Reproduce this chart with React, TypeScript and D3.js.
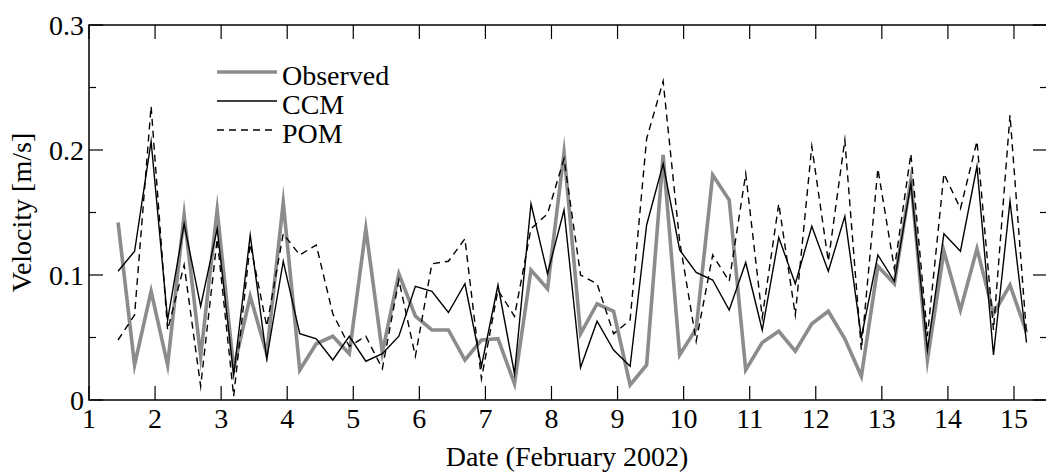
import React from "react";
import * as d3 from "d3";

const dates = [1.44,1.69,1.94,2.19,2.44,2.69,2.94,3.19,3.44,3.69,3.94,4.19,4.44,4.69,4.94,5.19,5.44,5.69,5.94,6.19,6.44,6.69,6.94,7.19,7.44,7.69,7.94,8.19,8.44,8.69,8.94,9.19,9.44,9.69,9.94,10.19,10.44,10.69,10.94,11.19,11.44,11.69,11.94,12.19,12.44,12.69,12.94,13.19,13.44,13.69,13.94,14.19,14.44,14.69,14.94,15.19];

const observed = [0.142,0.028,0.087,0.028,0.148,0.035,0.152,0.025,0.083,0.037,0.158,0.024,0.045,0.051,0.037,0.137,0.038,0.101,0.067,0.056,0.056,0.032,0.048,0.049,0.013,0.104,0.089,0.198,0.053,0.077,0.071,0.012,0.028,0.196,0.036,0.057,0.180,0.160,0.024,0.046,0.055,0.039,0.061,0.071,0.049,0.019,0.107,0.093,0.176,0.032,0.119,0.072,0.121,0.069,0.092,0.054];

const ccm = [0.103,0.119,0.207,0.064,0.141,0.075,0.137,0.020,0.132,0.033,0.111,0.053,0.049,0.032,0.051,0.031,0.037,0.051,0.091,0.087,0.070,0.093,0.027,0.092,0.021,0.157,0.101,0.152,0.026,0.063,0.040,0.027,0.140,0.189,0.120,0.102,0.096,0.072,0.110,0.056,0.130,0.093,0.139,0.103,0.147,0.050,0.116,0.095,0.173,0.040,0.133,0.119,0.187,0.036,0.159,0.046];

const pom = [0.048,0.068,0.235,0.056,0.108,0.011,0.129,0.003,0.125,0.059,0.133,0.116,0.124,0.069,0.043,0.051,0.025,0.096,0.035,0.109,0.111,0.129,0.017,0.088,0.067,0.137,0.149,0.193,0.100,0.093,0.053,0.064,0.209,0.255,0.127,0.047,0.116,0.095,0.181,0.066,0.157,0.068,0.203,0.111,0.208,0.040,0.185,0.105,0.197,0.051,0.181,0.153,0.207,0.056,0.228,0.053];

const xTicks = [1,2,3,4,5,6,7,8,9,10,11,12,13,14,15];
const yTicks = [0, 0.1, 0.2, 0.3];
const yTickLabels = ["0", "0.1", "0.2", "0.3"];
const yMinorTicks = [0.05, 0.15, 0.25];

const seriesNames = ["Observed", "CCM", "POM"];

const W = 1046, H = 473;
const FONT = "Liberation Serif, Times New Roman, DejaVu Serif, serif";
const txt = { fontFamily: FONT, fontSize: 28 } as React.CSSProperties;

export default function App() {
  const x = d3.scaleLinear().domain([1, 15.5]).range([89, 1047]);
  const y = d3.scaleLinear().domain([0, 0.3]).range([400, 25]);
  const [x0, x1] = x.range();
  const [y0, y1] = y.range();

  const mk = (vals: number[]) =>
    d3.line<number>().x((_, i) => x(dates[i])).y((v) => y(v))(vals) || "";

  const styles = [
    { stroke: "#8c8c8c", width: 3.6, dash: undefined as string | undefined },
    { stroke: "#000", width: 1.4, dash: undefined },
    { stroke: "#000", width: 1.4, dash: "7,5" },
  ];
  const data = [observed, ccm, pom];
  const legendY = [72, 101, 130];

  const major = 14, minor = 7;

  return (
    <svg width={W} height={H} style={{ position: "absolute", left: 0, top: 0, background: "#fff" }}>
      <defs>
        <clipPath id="plot">
          <rect x={x0} y={y1} width={x1 - x0} height={y0 - y1} />
        </clipPath>
      </defs>
      <g clipPath="url(#plot)">
        {data.map((d, k) => (
          <path key={k} d={mk(d)} fill="none" stroke={styles[k].stroke} strokeWidth={styles[k].width}
            strokeDasharray={styles[k].dash} strokeLinejoin="miter" strokeMiterlimit={10} />
        ))}
      </g>
      {seriesNames.map((n, k) => (
        <g key={n}>
          <line x1={217} x2={277} y1={legendY[k]} y2={legendY[k]} stroke={styles[k].stroke}
            strokeWidth={styles[k].width} strokeDasharray={styles[k].dash} />
          <text x={282} y={legendY[k] + 13} style={txt} fill="#000">{n}</text>
        </g>
      ))}
      <rect x={x0} y={y1} width={x1 - x0} height={y0 - y1} fill="none" stroke="#000" strokeWidth={1.5} />
      {xTicks.map((t) => (
        <g key={"x" + t}>
          <line x1={x(t)} x2={x(t)} y1={y0} y2={y0 - major} stroke="#000" strokeWidth={1.2} />
          <line x1={x(t)} x2={x(t)} y1={y1} y2={y1 + major} stroke="#000" strokeWidth={1.2} />
          <text x={x(t)} y={428} style={txt} textAnchor="middle" fill="#000">{t}</text>
        </g>
      ))}
      {yTicks.map((t, i) => (
        <g key={"y" + t}>
          <line x1={x0} x2={x0 + major} y1={y(t)} y2={y(t)} stroke="#000" strokeWidth={1.2} />
          <line x1={x1} x2={x1 - major} y1={y(t)} y2={y(t)} stroke="#000" strokeWidth={1.2} />
          <text x={84} y={y(t)} dy="0.35em" style={txt} textAnchor="end" fill="#000">{yTickLabels[i]}</text>
        </g>
      ))}
      {yMinorTicks.map((t) => (
        <g key={"ym" + t}>
          <line x1={x0} x2={x0 + minor} y1={y(t)} y2={y(t)} stroke="#000" strokeWidth={1.2} />
          <line x1={x1} x2={x1 - minor} y1={y(t)} y2={y(t)} stroke="#000" strokeWidth={1.2} />
        </g>
      ))}
      <text x={567} y={466} style={txt} textAnchor="middle" fill="#000">Date (February 2002)</text>
      <text transform={`translate(31, ${(y0 + y1) / 2}) rotate(-90)`} style={txt} textAnchor="middle" fill="#000">Velocity [m/s]</text>
    </svg>
  );
}
